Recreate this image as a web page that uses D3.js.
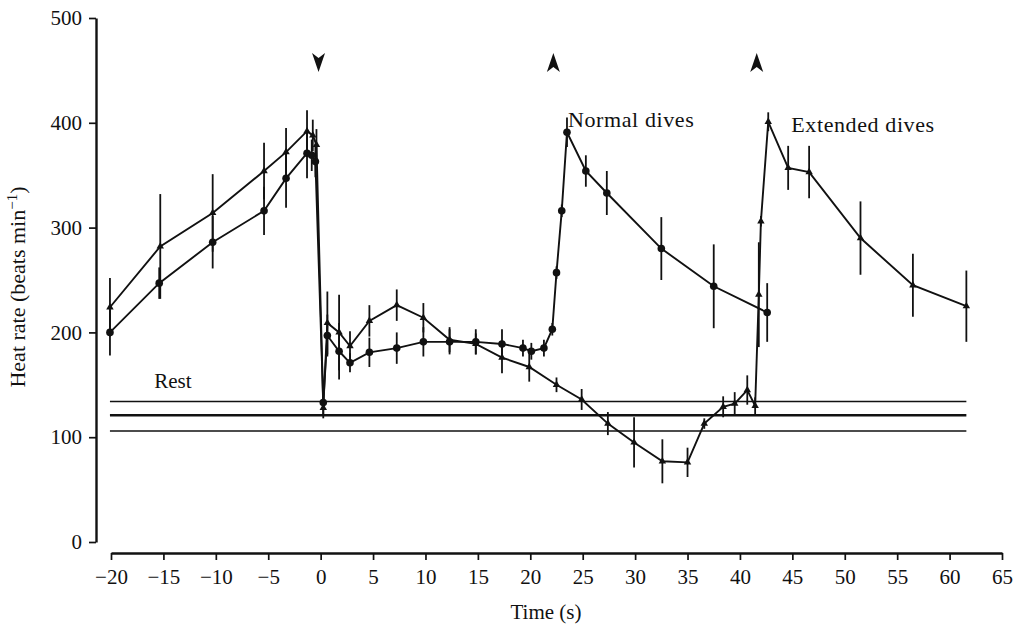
<!DOCTYPE html>
<html>
<head>
<meta charset="utf-8">
<script src="https://cdn.jsdelivr.net/npm/d3@7"></script>
<style>
  body { margin: 0; background: #fff; }
  text { font-family: "Liberation Serif", "DejaVu Serif", serif; fill: #111; }
</style>
</head>
<body>
<svg id="chart" width="1021" height="628"></svg>
<script>
// normal dives (filled circles)
var normT   = [-20.1, -15.4, -10.3, -5.4, -3.3, -1.3, -0.85, -0.5, 0.25, 0.64, 1.76, 2.8, 4.65, 7.26, 9.8, 12.3, 14.8, 17.3, 19.3, 20.1, 21.3, 22.1, 22.5, 23.0, 23.5, 25.3, 27.3, 32.5, 37.5, 42.6];
var normHR  = [200, 247, 286, 316, 347, 371, 369, 363, 133, 197, 182, 171, 181, 185, 191, 191, 191, 189, 185, 182, 185, 203, 257, 316, 391, 354, 333, 280, 244, 219];
var normErr = [22, 15, 25, 23, 28, 24, 15, 15, 12, 20, 27, 9, 14, 15, 14, 12, 12, 14, 8, 8, 8, 6, 6, 6, 14, 15, 21, 30, 40, 28];

// extended dives (small triangles)
var extT   = [-20.1, -15.3, -10.3, -5.4, -3.3, -1.3, -0.75, -0.4, 0.25, 0.64, 1.76, 2.8, 4.65, 7.26, 9.8, 12.3, 14.8, 17.3, 19.9, 22.5, 24.9, 27.4, 29.9, 32.6, 35.0, 36.6, 38.4, 39.5, 40.7, 41.45, 41.8, 42.0, 42.7, 44.6, 46.6, 51.5, 56.5, 61.6];
var extHR  = [224, 282, 314, 354, 372, 392, 388, 379, 128, 209, 200, 187, 211, 226, 214, 193, 189, 176, 167, 150, 136, 113, 95, 77, 76, 113, 129, 132, 145, 130, 236, 306, 401, 357, 353, 290, 245, 225];
var extErr = [28, 50, 37, 27, 23, 20, 15, 15, 10, 30, 36, 14, 15, 15, 14, 12, 10, 15, 14, 7, 10, 11, 24, 21, 14, 5, 10, 11, 14, 8, 50, 5, 9, 21, 25, 35, 30, 34];

// resting heart rate: mean and +/- band
var restHR = [134, 121, 106];
var restFrom = -20.1, restTo = 61.6;

var xTicks = [-20, -15, -10, -5, 0, 5, 10, 15, 20, 25, 30, 35, 40, 45, 50, 55, 60, 65];
var yTicks = [0, 100, 200, 300, 400, 500];

// start / end of dive markers
var diveT   = [-0.2, 22.2, 41.6];
var diveDir = ['down', 'up', 'up'];

var svg = d3.select('#chart');

var x = d3.scaleLinear().domain([-20, 65]).range([111, 1002]);
var y = d3.scaleLinear().domain([0, 500]).range([542, 18]);

// axes
var yAxis = d3.axisLeft(y).tickValues(yTicks).tickSize(7).tickSizeOuter(0).tickPadding(7);
var gy = svg.append('g').attr('transform', 'translate(96,0)').call(yAxis);
gy.select('.domain').attr('stroke-width', 2.4);

var xAxis = d3.axisBottom(x).tickValues(xTicks).tickSize(7).tickSizeOuter(0).tickPadding(9)
    .tickFormat(function(d) { return d < 0 ? '\u2212' + Math.abs(d) : d; });
var gx = svg.append('g').attr('transform', 'translate(0,553)').call(xAxis);
gx.select('.domain').attr('stroke-width', 2.4);

svg.selectAll('.tick line').attr('stroke', '#111').attr('stroke-width', 1.7);
svg.selectAll('.domain').attr('stroke', '#111');
svg.selectAll('.tick text').style('font-size', '21px').style('font-family', '"Liberation Serif", serif').attr('fill', '#111');

svg.append('text').attr('x', x(21.5)).attr('y', 619).attr('text-anchor', 'middle')
    .style('font-size', '21px').text('Time (s)');

var ylab = svg.append('text').attr('transform', 'translate(25,287) rotate(-90)')
    .attr('text-anchor', 'middle').style('font-size', '22px');
ylab.append('tspan').text('Heat rate (beats min');
ylab.append('tspan').attr('dy', -8).style('font-size', '15px').text('\u22121');
ylab.append('tspan').attr('dy', 8).text(')');

// rest lines
svg.selectAll('line.rest')
    .data(restHR)
    .enter()
    .append('line')
    .attr('class', 'rest')
    .attr('x1', x(restFrom)).attr('x2', x(restTo))
    .attr('y1', function(d) { return y(d); })
    .attr('y2', function(d) { return y(d); })
    .attr('stroke', '#111')
    .attr('stroke-width', function(d, i) { return i == 1 ? 2.4 : 1.5; });

svg.append('text').attr('x', x(-14.1)).attr('y', y(147)).attr('text-anchor', 'middle')
    .style('font-size', '21px').text('Rest');

function series(ts, hr, er) {
    var out = [];
    for (var i = 0; i < ts.length; i += 1) {
        out.push({t: ts[i], v: hr[i], e: er[i]});
    }
    return out;
}
var normal = series(normT, normHR, normErr);
var extended = series(extT, extHR, extErr);

var line = d3.line().x(function(d) { return x(d.t); }).y(function(d) { return y(d.v); });

[normal, extended].forEach(function(s, k) {
    var g = svg.append('g');
    g.selectAll('line.err')
        .data(s)
        .enter()
        .append('line')
        .attr('x1', function(d) { return x(d.t); })
        .attr('x2', function(d) { return x(d.t); })
        .attr('y1', function(d) { return y(d.v - d.e); })
        .attr('y2', function(d) { return y(d.v + d.e); })
        .attr('stroke', '#111')
        .attr('stroke-width', 1.8);
    g.append('path')
        .datum(s)
        .attr('d', line)
        .attr('fill', 'none')
        .attr('stroke', '#111')
        .attr('stroke-width', 1.9);
    if (k == 0) {
        g.selectAll('circle')
            .data(s)
            .enter()
            .append('circle')
            .attr('cx', function(d) { return x(d.t); })
            .attr('cy', function(d) { return y(d.v); })
            .attr('r', 3.8)
            .attr('fill', '#111');
    } else {
        g.selectAll('path.mk')
            .data(s)
            .enter()
            .append('path')
            .attr('class', 'mk')
            .attr('d', d3.symbol().type(d3.symbolTriangle).size(24))
            .attr('transform', function(d) { return 'translate(' + x(d.t) + ',' + y(d.v) + ')'; })
            .attr('fill', '#111');
    }
});

svg.append('text').attr('x', x(23.6)).attr('y', y(396)).style('font-size', '22px').style('letter-spacing', '0.6px').text('Normal dives');
svg.append('text').attr('x', x(44.9)).attr('y', y(391)).style('font-size', '22px').style('letter-spacing', '0.6px').text('Extended dives');

// dive arrows
svg.selectAll('path.arrow')
    .data(diveT)
    .enter()
    .append('path')
    .attr('class', 'arrow')
    .attr('d', function(d, i) {
        return diveDir[i] == 'up' ? 'M0,0 L6.5,19 L0,14 L-6.5,19 Z' : 'M0,19 L6.5,0 L0,5 L-6.5,0 Z';
    })
    .attr('transform', function(d) { return 'translate(' + x(d) + ',53)'; })
    .attr('fill', '#111');
</script>
</body>
</html>
